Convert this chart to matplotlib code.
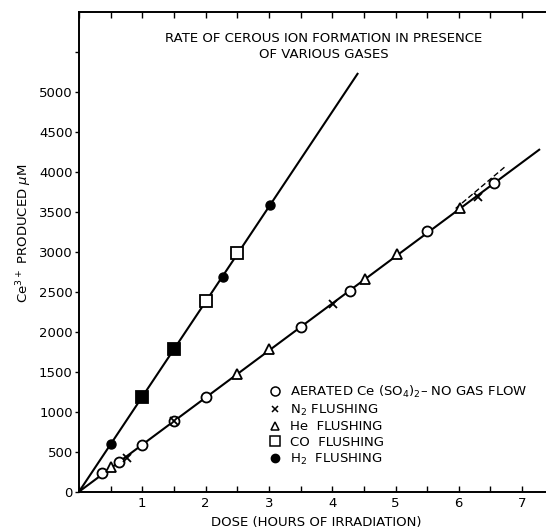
import matplotlib
matplotlib.use("Agg")
import matplotlib.pyplot as plt
from matplotlib.lines import Line2D
from matplotlib.ticker import MultipleLocator

# -------------------- datos --------------------
# dosis en horas de irradiacion, Ce3+ en microM
aerated_x = [0.37, 0.63, 1.0, 1.5, 2.0, 3.5, 4.28, 5.5, 6.55]
aerated_y = [230, 375, 590, 890, 1190, 2060, 2515, 3265, 3860]

n2_x = [0.76, 1.5, 4.02, 6.3]
n2_y = [425, 885, 2350, 3690]

he_x = [0.5, 2.5, 3.0, 4.52, 5.02, 6.02]
he_y = [305, 1470, 1790, 2665, 2975, 3555]

co_x = [1.0, 1.5, 2.0, 2.5]
co_y = [1190, 1780, 2385, 2985]
co_filled = [True, True, False, False]   # tapados por los puntos de H2

h2_x = [0.5, 1.0, 1.5, 2.27, 3.02]
h2_y = [603, 1190, 1780, 2685, 3585]

# rectas trazadas a mano
h2_fit_x = [0, 4.4]
h2_fit_y = [0, 5230]
low_fit_x = [0, 7.27]
low_fit_y = [0, 4280]
n2_dash_x = [5.95, 6.75]
n2_dash_y = [3545, 4080]

y_ticks = list(range(0, 6000, 500))
y_labels = ["0"] + [str(v) for v in y_ticks[1:-1]] + [""]
x_ticks = [1, 2, 3, 4, 5, 6, 7]

FS = 9.5
plt.rcParams["font.family"] = ["DejaVu Sans"]

fig = plt.figure(figsize=(5.46, 5.32), dpi=100)
ax = fig.add_axes([79 / 546, 40.3 / 532, 474.75 / 546, 479.4 / 532])

# -------------------- lineas --------------------
ax.plot(h2_fit_x, h2_fit_y, color="black", lw=1.5, zorder=2)
ax.plot(low_fit_x, low_fit_y, color="black", lw=1.5, zorder=2)
ax.plot(n2_dash_x, n2_dash_y, color="black", lw=1.0, ls=(0, (4, 2)), zorder=2)

# -------------------- puntos --------------------
ms = 7.2
ax.plot(aerated_x, aerated_y, ls="none", marker="o", ms=ms, mfc="white",
        mec="black", mew=1.3, zorder=3)
ax.plot(he_x, he_y, ls="none", marker="^", ms=ms, mfc="white",
        mec="black", mew=1.3, zorder=3)
ax.plot(n2_x, n2_y, ls="none", marker="x", ms=5.5, mec="black", mew=1.3, zorder=4)
ax.plot(h2_x, h2_y, ls="none", marker="o", ms=6.5, mfc="black",
        mec="black", zorder=4)
for x, y, f in zip(co_x, co_y, co_filled):
    ax.plot(x, y, ls="none", marker="s", ms=8.2, mfc="black" if f else "white",
            mec="black", mew=1.3, zorder=3)

# -------------------- ejes --------------------
ax.set_xlim(0, 7.5)
ax.set_ylim(0, 6000)
ax.spines["right"].set_visible(False)
for s in ["left", "bottom", "top"]:
    ax.spines[s].set_linewidth(1.4)

ax.set_xticks(x_ticks)
ax.set_xticklabels([str(v) for v in x_ticks], fontsize=FS)
ax.xaxis.set_minor_locator(MultipleLocator(0.5))
ax.tick_params(axis="x", which="both", direction="in", length=4, width=1,
               top=True, pad=4)
ax.set_yticks(y_ticks)
ax.set_yticklabels(y_labels, fontsize=FS)
ax.tick_params(axis="y", direction="out", length=3, width=1, pad=1.5)

ax.set_xlabel("DOSE (HOURS OF IRRADIATION)", fontsize=FS, labelpad=4)
ax.set_ylabel(r"Ce$^{3+}$ PRODUCED $\mu$M", fontsize=FS)
ax.yaxis.set_label_coords(-0.095, 0.54)

ax.text(3.86, 5570, "RATE OF CEROUS ION FORMATION IN PRESENCE\nOF VARIOUS GASES",
        ha="center", va="center", fontsize=FS, linespacing=1.25)

# -------------------- leyenda --------------------
handles = [
    Line2D([], [], ls="none", marker="o", ms=6.5, mfc="white", mec="black", mew=1.1),
    Line2D([], [], ls="none", marker="x", ms=5, mec="black", mew=1.1),
    Line2D([], [], ls="none", marker="^", ms=6, mfc="white", mec="black", mew=1.1),
    Line2D([], [], ls="none", marker="s", ms=7, mfc="white", mec="black", mew=1.1),
    Line2D([], [], ls="none", marker="o", ms=6, mfc="black", mec="black"),
]
labels = [
    r"AERATED Ce (SO$_4$)$_2$– NO GAS FLOW",
    r"N$_2$ FLUSHING",
    "He  FLUSHING",
    "CO  FLUSHING",
    r"H$_2$  FLUSHING",
]
ax.legend(handles, labels, loc="upper left", bbox_to_anchor=(0.399, 0.225),
          frameon=False, fontsize=FS, borderpad=0, handlelength=1,
          handletextpad=0.6, labelspacing=0.2, borderaxespad=0)

fig.savefig("out.png", dpi=100)
